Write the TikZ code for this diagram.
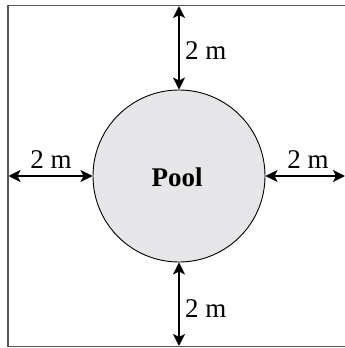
\documentclass[tikz,border=0pt]{standalone}
\usepackage{fontspec}
\setmainfont{Liberation Serif}
\usetikzlibrary{arrows.meta}
\definecolor{poolgray}{HTML}{E6E6E8}
\definecolor{edgegray}{HTML}{555555}
\tikzset{
  dim/.style={line width=2.2pt, {Stealth[length=12pt,width=12pt,inset=3pt]}-{Stealth[length=12pt,width=12pt,inset=3pt]}},
  lbl/.style={font=\fontsize{27}{30}\selectfont, inner sep=0pt},
}
\begin{document}
\begin{tikzpicture}[x=1pt,y=-1pt]
\useasboundingbox (0,0) rectangle (345,348);
\fill[white] (0,0) rectangle (345,348);
\begin{scope}
\clip (0,0) rectangle (345,348);
\draw[edgegray, line width=1.6pt] (8,5.5) rectangle (360,346.5);
\end{scope}
\node[circle, draw=black, line width=0.9pt, fill=poolgray, minimum size=172pt, inner sep=0pt] (pool) at (179,176) {};
\node[font=\bfseries\fontsize{27}{30}\selectfont, inner sep=0pt] (pl) at (177,177) {Pool};
\coordinate (top) at (179,6);
\coordinate (bot) at (179,346);
\coordinate (lft) at (8.5,176);
\coordinate (rgt) at (345,176);
\draw[dim] (top) -- (pool.north);
\draw[dim] (pool.south) -- (bot);
\draw[dim] (lft) -- (pool.west);
\draw[dim] (pool.east) -- (rgt);
\node[lbl, anchor=west] (lt) at (185,51) {2 m};
\node[lbl, anchor=west] (lb) at (185,309) {2 m};
\node[lbl] (ll) at (51,160) {2 m};
\node[lbl] (lr) at (308,160) {2 m};
\end{tikzpicture}
\end{document}
